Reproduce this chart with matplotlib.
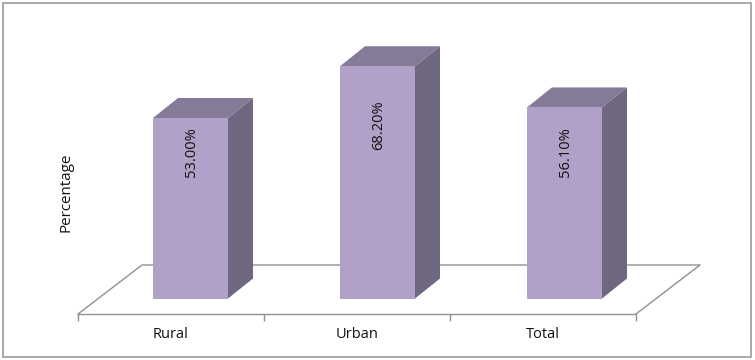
import matplotlib
matplotlib.use("Agg")
import matplotlib.pyplot as plt
from matplotlib.patches import Polygon, Rectangle

categories = ["Rural", "Urban", "Total"]
values = [53.0, 68.2, 56.1]
labels = ["53.00%", "68.20%", "56.10%"]
label_top_px = [127, 100, 127]

W, H = 755, 360
plt.rcParams['font.family'] = ['Open Sans', 'DejaVu Sans']
fig = plt.figure(figsize=(W / 100, H / 100), dpi=100, facecolor='white')

# frame
fig.add_artist(Rectangle((3 / W, 1 - 357 / H), 748 / W, 354 / H, transform=fig.transFigure,
                         fill=False, edgecolor='#9a9a9a', linewidth=1.2))

left, right, base_y, front_y, top_y = 78, 636, 298.5, 314, 20
ax = fig.add_axes([left / W, 1 - front_y / H, (right - left) / W, (front_y - top_y) / H])
px_y = (base_y - 118) / values[0]
ax.set_xlim(-0.5, 2.5)
ax.set_ylim(-(front_y - base_y) / px_y, (base_y - top_y) / px_y)
ax.patch.set_alpha(0)
for s in ['top', 'left', 'right']:
    ax.spines[s].set_visible(False)
ax.spines['bottom'].set_color('#909090')
ax.spines['bottom'].set_linewidth(1.0)
ax.set_yticks([])
ax.set_xticks([-0.5, 0.5, 1.5, 2.5])
ax.set_xticklabels([])
ax.tick_params(axis='x', length=5, color='#909090', width=1)
px_x = (right - left) / 3
y0 = ax.get_ylim()[0]

# floor
fdx, fdy = 64 / px_x, 49 / px_y
ax.plot([-0.5, -0.5 + fdx, 2.5 + fdx, 2.5], [y0, y0 + fdy, y0 + fdy, y0],
        color='#909090', lw=1.0, clip_on=False, zorder=1)

# bars
off, bw, step = 19.5 / px_x, 75 / px_x, 187 / px_x
dx, dy = 25 / px_x, 20 / px_y
for i, (c, v, l, t) in enumerate(zip(categories, values, labels, label_top_px)):
    xc = off + i * step
    x0, x1 = xc - bw / 2, xc + bw / 2
    ax.add_patch(Polygon([(x1, 0), (x1 + dx, dy), (x1 + dx, v + dy), (x1, v)],
                         facecolor='#6f667f', edgecolor='none', zorder=2, clip_on=False))
    ax.add_patch(Polygon([(x0, v), (x0 + dx, v + dy), (x1 + dx, v + dy), (x1, v)],
                         facecolor='#857a97', edgecolor='none', zorder=2, clip_on=False))
    ax.bar(xc, v, width=bw, color='#b1a0c7', zorder=3)
    ax.text(xc + 1 / px_x, (base_y - t) / px_y, l, rotation=90, ha='center', va='top',
            fontsize=10.5, color='#111111', zorder=4)
    ax.text(i, y0 - 20 / px_y, c, ha='center', va='center', fontsize=10.5, color='#111111')

fig.text(66 / W, 1 - 192 / H, "Percentage", rotation=90, ha='center', va='center',
         fontsize=10.9, color='#111111')
fig.savefig("out.png", dpi=100)
